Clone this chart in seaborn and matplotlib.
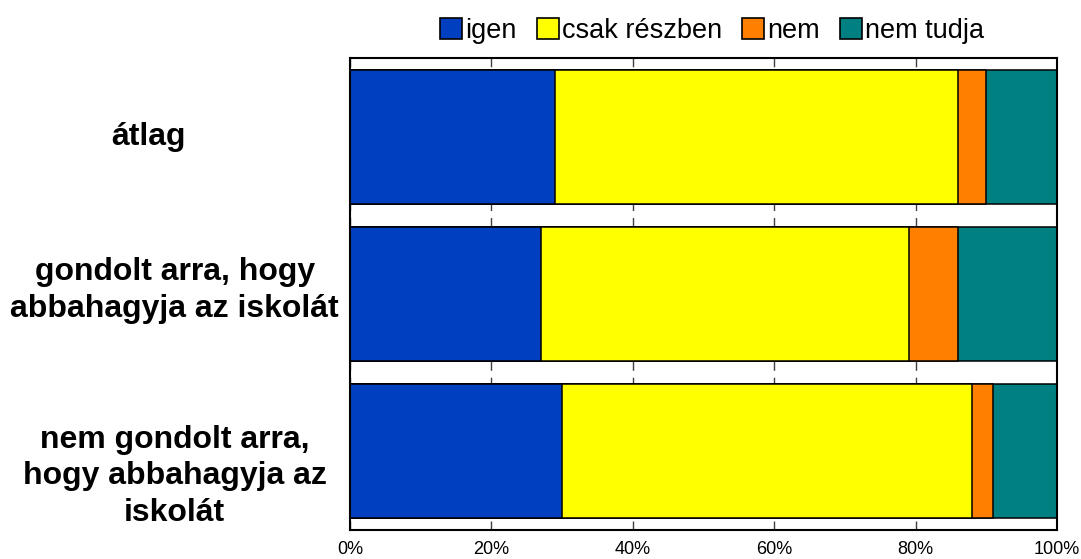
import matplotlib
matplotlib.use('Agg')
import matplotlib.pyplot as plt
from matplotlib.patches import Patch
from matplotlib.ticker import PercentFormatter
import numpy as np
import seaborn as sns

categories = ['átlag',
              'gondolt arra, hogy\nabbahagyja az iskolát',
              'nem gondolt arra,\nhogy abbahagyja az\niskolát']
series = ['igen', 'csak részben', 'nem', 'nem tudja']
igen = [29, 27, 30]
csak_reszben = [57, 52, 58]
nem = [4, 7, 3]
nem_tudja = [10, 14, 9]
colors = ['#0040C0', '#FFFF00', '#FF8000', '#008080']

sns.set_style('white')
plt.rcParams['font.family'] = ['Liberation Sans', 'DejaVu Sans']
plt.rcParams['text.color'] = 'black'
plt.rcParams['xtick.color'] = 'black'
plt.rcParams['ytick.color'] = 'black'

values = np.array([igen, csak_reszben, nem, nem_tudja], dtype=float)
cum = np.cumsum(values, axis=0)

fig = plt.figure(figsize=(10.81, 5.59), dpi=100)
ax = fig.add_axes([0.3238, 0.0519, 0.654, 0.8443])

# stacked bars: draw cumulative totals from the right, widest first
for i in range(len(series) - 1, -1, -1):
    sns.barplot(x=cum[i], y=categories, color=colors[i], orient='h',
                width=0.85, edgecolor='black', linewidth=1.1,
                saturation=1, ax=ax, zorder=2)

ax.set_xlim(0, 100)
ax.set_ylim(2.5, -0.5)
ax.set_xticks([0, 20, 40, 60, 80, 100])
ax.xaxis.set_major_formatter(PercentFormatter(decimals=0))
ax.grid(axis='x', color='#404040', linewidth=1.0, linestyle=(0, (6.5, 5)), zorder=0)
ax.grid(axis='y', visible=False)
ax.set_axisbelow(True)
ax.set_xlabel('')
ax.set_ylabel('')

ax.tick_params(axis='x', length=0, pad=8, labelsize=13, labelcolor='black')
ax.set_yticklabels([])
ax.tick_params(axis='y', length=0)

# row labels, centred in the space left of the plot
label_x = [-0.285, -0.248, -0.248]
label_dy = [0, -0.02, 0.16]
for i, cat in enumerate(categories):
    ax.text(label_x[i], i + label_dy[i], cat, transform=ax.get_yaxis_transform(),
            ha='center', va='center', fontsize=23, fontweight='bold',
            color='black', linespacing=1.3)

for s in ax.spines.values():
    s.set_visible(True)
    s.set_color('black')
    s.set_linewidth(1.5)

handles = [Patch(facecolor=c, edgecolor='black', linewidth=1.2, label=s)
           for c, s in zip(colors, series)]
fig.legend(handles=handles, loc='center', bbox_to_anchor=(0.659, 0.945), ncol=4,
           frameon=False, fontsize=19.5, handlelength=0.8, handleheight=0.8,
           handletextpad=0.12, columnspacing=0.75)

fig.savefig('out.png', dpi=100)
